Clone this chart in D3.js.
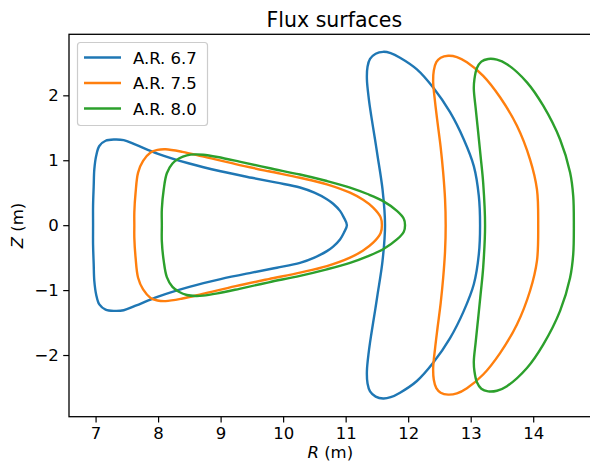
<!DOCTYPE html>
<html>
<head>
<meta charset="utf-8">
<script src="https://cdn.jsdelivr.net/npm/d3@7"></script>
<style>
  html, body { margin: 0; padding: 0; background: #fff; }
  svg { display: block; font-family: "DejaVu Sans", sans-serif; }
</style>
</head>
<body>
<svg id="chart" width="590" height="464"></svg>
<script>
// Flux-surface cross-sections (R, Z in metres) for three aspect ratios.
// Each configuration has a triangular section and a bean-shaped section.
const seriesNames = ["A.R. 6.7", "A.R. 7.5", "A.R. 8.0"];
const seriesColors = ["#1f77b4", "#ff7f0e", "#2ca02c"];

const ar67Triangle = [
  [11.02,0],[10.97,0.12],[10.91,0.22],[10.80,0.33],[10.70,0.40],[10.50,0.50],[10.27,0.58],[9.90,0.655],
  [9.50,0.73],[9.00,0.83],[8.50,0.95],[8.00,1.10],[7.64,1.24],[7.45,1.31],[7.30,1.32],[7.16,1.30],
  [7.06,1.22],[7.01,1.07],[6.98,0.86],[6.97,0.60],[6.96,0.30],[6.96,0],
  [6.96,-0.30],[6.97,-0.60],[6.98,-0.86],[7.01,-1.07],[7.06,-1.22],[7.16,-1.30],[7.30,-1.32],[7.45,-1.31],
  [7.64,-1.24],[8.00,-1.10],[8.50,-0.95],[9.00,-0.83],[9.50,-0.73],[9.90,-0.655],[10.27,-0.58],[10.50,-0.50],
  [10.70,-0.40],[10.80,-0.33],[10.91,-0.22],[10.97,-0.12]
];
const ar67Bean = [
  [13.15,0],[13.13,0.45],[13.05,0.91],[12.89,1.32],[12.67,1.74],[12.40,2.12],[12.14,2.40],[11.87,2.58],
  [11.72,2.65],[11.60,2.67],[11.48,2.64],[11.39,2.56],[11.35,2.44],[11.34,2.25],[11.37,1.95],[11.41,1.68],
  [11.47,1.32],[11.51,1.07],[11.59,0.55],[11.63,0],
  [11.59,-0.55],[11.51,-1.07],[11.47,-1.32],[11.41,-1.68],[11.37,-1.95],[11.34,-2.25],[11.35,-2.44],[11.39,-2.56],
  [11.48,-2.64],[11.60,-2.67],[11.72,-2.65],[11.87,-2.58],[12.14,-2.40],[12.40,-2.12],[12.67,-1.74],[12.89,-1.32],
  [13.05,-0.91],[13.13,-0.45]
];

const ar75Triangle = [
  [11.58,0],[11.56,0.12],[11.44,0.27],[11.28,0.39],[11.07,0.50],[10.70,0.63],[10.27,0.73],[9.77,0.83],
  [9.24,0.94],[8.71,1.06],[8.39,1.13],[8.12,1.17],[7.99,1.16],[7.88,1.12],[7.76,0.99],[7.68,0.81],
  [7.64,0.50],[7.62,0.20],[7.62,0],
  [7.62,-0.20],[7.64,-0.50],[7.68,-0.81],[7.76,-0.99],[7.88,-1.12],[7.99,-1.16],[8.12,-1.17],[8.39,-1.13],
  [8.71,-1.06],[9.24,-0.94],[9.77,-0.83],[10.27,-0.73],[10.70,-0.63],[11.07,-0.50],[11.28,-0.39],[11.44,-0.27],
  [11.56,-0.12]
];
const ar75Bean = [
  [14.08,0],[14.06,0.55],[13.95,1.01],[13.74,1.53],[13.47,1.97],[13.20,2.30],[12.94,2.51],[12.78,2.59],
  [12.64,2.61],[12.52,2.58],[12.45,2.51],[12.41,2.38],[12.40,2.20],[12.43,1.90],[12.47,1.58],[12.52,1.20],
  [12.56,0.81],[12.59,0.40],[12.60,0],
  [12.59,-0.40],[12.56,-0.81],[12.52,-1.20],[12.47,-1.58],[12.43,-1.90],[12.40,-2.20],[12.41,-2.38],[12.45,-2.51],
  [12.52,-2.58],[12.64,-2.61],[12.78,-2.59],[12.94,-2.51],[13.20,-2.30],[13.47,-1.97],[13.74,-1.53],[13.95,-1.01],
  [14.06,-0.55]
];

const ar80Triangle = [
  [11.95,0],[11.93,0.10],[11.82,0.22],[11.60,0.37],[11.35,0.48],[11.07,0.58],[10.70,0.68],[10.27,0.78],
  [9.77,0.88],[9.30,0.98],[8.95,1.05],[8.72,1.085],[8.60,1.09],[8.46,1.075],[8.34,1.03],[8.23,0.95],
  [8.14,0.80],[8.09,0.55],[8.06,0.25],[8.06,0],
  [8.06,-0.25],[8.09,-0.55],[8.14,-0.80],[8.23,-0.95],[8.34,-1.03],[8.46,-1.075],[8.60,-1.09],[8.72,-1.085],
  [8.95,-1.05],[9.30,-0.98],[9.77,-0.88],[10.27,-0.78],[10.70,-0.68],[11.07,-0.58],[11.35,-0.48],[11.60,-0.37],
  [11.82,-0.22],[11.93,-0.10]
];
const ar80Bean = [
  [14.65,0],[14.64,0.45],[14.59,0.81],[14.43,1.32],[14.16,1.84],[13.90,2.20],[13.58,2.48],[13.42,2.55],
  [13.28,2.56],[13.17,2.52],[13.10,2.42],[13.06,2.25],[13.05,2.10],[13.08,1.80],[13.12,1.43],[13.16,1.05],
  [13.20,0.65],[13.23,0],
  [13.20,-0.65],[13.16,-1.05],[13.12,-1.43],[13.08,-1.80],[13.05,-2.10],[13.06,-2.25],[13.10,-2.42],[13.17,-2.52],
  [13.28,-2.56],[13.42,-2.55],[13.58,-2.48],[13.90,-2.20],[14.16,-1.84],[14.43,-1.32],[14.59,-0.81],[14.64,-0.45]
];

const xTickValues = [7, 8, 9, 10, 11, 12, 13, 14];
const yTickValues = [-2, -1, 0, 1, 2];
const yTickLabels = ["\u22122", "\u22121", "0", "1", "2"];

const surfaces = [
  { name: seriesNames[0], color: seriesColors[0], curves: [ar67Triangle, ar67Bean] },
  { name: seriesNames[1], color: seriesColors[1], curves: [ar75Triangle, ar75Bean] },
  { name: seriesNames[2], color: seriesColors[2], curves: [ar80Triangle, ar80Bean] }
];

const svg = d3.select("#chart");
const plot = { left: 69, right: 597.6, top: 34.3, bottom: 416.7 };

const x = d3.scaleLinear().domain([6.575, 15.03]).range([plot.left, plot.right]);
const y = d3.scaleLinear().domain([-2.95, 2.94]).range([plot.bottom, plot.top]);

// Surfaces
const line = d3.line()
  .x(d => x(d[0]))
  .y(d => y(d[1]))
  .curve(d3.curveCatmullRomClosed.alpha(0.5));

const gLines = svg.append("g");
surfaces.forEach(s => {
  s.curves.forEach(c => {
    gLines.append("path")
      .attr("d", line(c))
      .attr("fill", "none")
      .attr("stroke", s.color)
      .attr("stroke-width", 2.4)
      .attr("stroke-linejoin", "round");
  });
});

// Axes
const xAxis = d3.axisBottom(x).tickValues(xTickValues).tickSize(5.8).tickPadding(4.5)
  .tickFormat(d3.format("d"));
const yAxis = d3.axisLeft(y).tickValues(yTickValues).tickSize(5.8).tickPadding(4.5)
  .tickFormat((d, i) => yTickLabels[i]);

const gx = svg.append("g").attr("transform", `translate(0,${plot.bottom})`).call(xAxis);
const gy = svg.append("g").attr("transform", `translate(${plot.left},0)`).call(yAxis);
[gx, gy].forEach(g => {
  g.select(".domain").remove();
  g.selectAll(".tick line").attr("stroke", "#000").attr("stroke-width", 1.2);
  g.selectAll(".tick text").attr("fill", "#000").style("font-size", "16.5px")
    .style("font-family", "DejaVu Sans, sans-serif");
});

// Frame
svg.append("rect")
  .attr("x", plot.left).attr("y", plot.top)
  .attr("width", plot.right - plot.left).attr("height", plot.bottom - plot.top)
  .attr("fill", "none").attr("stroke", "#000").attr("stroke-width", 1.3);

// Title and axis labels
svg.append("text")
  .attr("x", (plot.left + plot.right) / 2 + 1).attr("y", 26.5)
  .attr("text-anchor", "middle").style("font-size", "20.5px")
  .text("Flux surfaces");

const xl = svg.append("text")
  .attr("x", (plot.left + plot.right) / 2 - 3).attr("y", 458)
  .attr("text-anchor", "middle").style("font-size", "16.5px");
xl.append("tspan").style("font-style", "italic").text("R");
xl.append("tspan").text(" (m)");

const yl = svg.append("text")
  .attr("transform", `translate(23,${(plot.top + plot.bottom) / 2}) rotate(-90)`)
  .attr("text-anchor", "middle").style("font-size", "16.5px");
yl.append("tspan").style("font-style", "italic").text("Z");
yl.append("tspan").text(" (m)");

// Legend
const legend = svg.append("g");
legend.append("rect")
  .attr("x", 77.5).attr("y", 42.5).attr("width", 130).attr("height", 83).attr("rx", 3)
  .attr("fill", "#fff").attr("fill-opacity", 0.8)
  .attr("stroke", "#cccccc").attr("stroke-width", 1.2);
surfaces.forEach((s, i) => {
  const ly = 57.5 + i * 25.5;
  legend.append("line")
    .attr("x1", 84).attr("x2", 121).attr("y1", ly).attr("y2", ly)
    .attr("stroke", s.color).attr("stroke-width", 2.4);
  legend.append("text")
    .attr("x", 133).attr("y", ly + 6)
    .style("font-size", "16.5px")
    .text(s.name);
});
</script>
</body>
</html>
